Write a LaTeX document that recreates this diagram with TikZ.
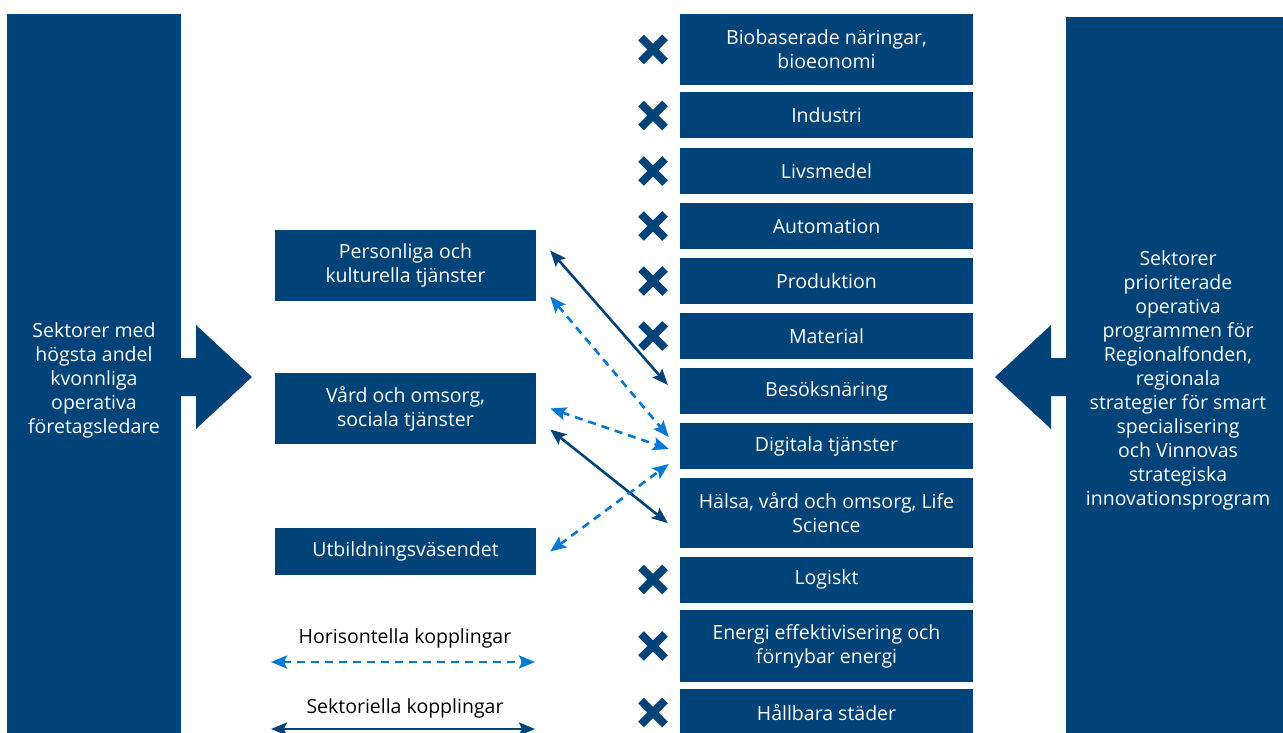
\documentclass[tikz,border=0pt]{standalone}
\usepackage{fontspec}
\setmainfont{Open Sans}
\usepackage{tikz}
\usetikzlibrary{arrows.meta}

\definecolor{morkbla}{RGB}{0,67,120}
\definecolor{ljusbla}{RGB}{0,120,212}

\tikzset{
	sektor/.style={fill=morkbla, text=white, align=center, inner sep=0pt,
		minimum width=293pt, minimum height=46pt, font=\fontsize{19.5}{24}\selectfont},
	koppling/.style={fill=morkbla, text=white, align=center, inner sep=0pt,
		minimum width=261pt, minimum height=71pt, font=\fontsize{19.5}{24}\selectfont},
	sektoriell/.style={morkbla, line width=2.6pt, {Stealth[length=16pt,width=13pt,inset=3pt]}-{Stealth[length=16pt,width=13pt,inset=3pt]}},
	horisontell/.style={ljusbla, line width=2.6pt, dash pattern=on 8pt off 6pt, {Stealth[length=16pt,width=13pt,inset=3pt]}-{Stealth[length=16pt,width=13pt,inset=3pt]}}
}

\begin{document}
\begin{tikzpicture}[x=1pt, y=-1pt]
	\useasboundingbox (0,0) rectangle (1283,733);
	%\draw[help lines] (0,0) grid[step=50] (1283,733);
	% stora block
	\node[fill=morkbla, text=white, align=center, inner sep=0pt, minimum width=174pt, minimum height=732pt,
		font=\fontsize{19.5}{24}\selectfont] (vanster) at (94,380)
		{Sektorer med\\högsta andel\\kvonnliga\\operativa\\företagsledare};
	\node[fill=morkbla, text=white, align=center, inner sep=0pt, minimum width=224pt, minimum height=726pt,
		font=\fontsize{19.5}{24}\selectfont] (hoger) at (1178,380)
		{Sektorer\\prioriterade\\operativa\\programmen för\\Regionalfonden,\\regionala\\strategier för smart\\specialisering\\och Vinnovas\\strategiska\\innovationsprogram};
	\fill[morkbla] (181,358) -- (196,358) -- (196,325) -- (252,377) -- (196,429) -- (196,396) -- (181,396) -- cycle;
	\fill[morkbla] (1066,358) -- (1051,358) -- (1051,325) -- (995,377) -- (1051,429) -- (1051,396) -- (1066,396) -- cycle;
	% sektorer
	\node[sektor, minimum height=71pt] (bio) at (826.5,49.5) {Biobaserade näringar,\\bioeonomi};
	\node[sektor] (ind) at (826.5,115.5) {Industri};
	\node[sektor] (liv) at (826.5,171) {Livsmedel};
	\node[sektor] (aut) at (826.5,226) {Automation};
	\node[sektor] (prod) at (826.5,281) {Produktion};
	\node[sektor] (mat) at (826.5,336) {Material};
	\node[sektor] (bes) at (826.5,391) {Besöksnäring};
	\node[sektor] (dig) at (826.5,446) {Digitala tjänster};
	\node[sektor, minimum height=70pt] (hal) at (826.5,513) {Hälsa, vård och omsorg, Life\\Science};
	\node[sektor] (log) at (826.5,579.5) {Logiskt};
	\node[sektor, minimum height=72pt] (ene) at (826.5,646) {Energi effektivisering och\\förnybar energi};
	\node[sektor, minimum height=47pt] (stad) at (826.5,712.5) {Hållbara städer};
	% kryss
	\foreach \y in {49.5,115.5,171,226,281,336,579.5,646,712.5}
		\draw[morkbla, line width=8pt] (641,\y-12) -- (665,\y+12) (641,\y+12) -- (665,\y-12);
	% kopplingar
	\node[koppling] (pers) at (405.5,265.5) {Personliga och\\kulturella tjänster};
	\node[koppling] (vard) at (405.5,408.5) {Vård och omsorg,\\sociala tjänster};
	\node[koppling, minimum height=47pt] (utb) at (405.5,551.5) {Utbildningsväsendet};
	\draw[sektoriell] ([xshift=14pt,yshift=15pt]pers.east) -- ([xshift=-12pt,yshift=6pt]bes.west);
	\draw[horisontell] ([xshift=14pt,yshift=-31pt]pers.east) -- ([xshift=-11pt,yshift=9pt]dig.west);
	\draw[horisontell] ([xshift=14pt]vard.east) -- ([xshift=-11pt,yshift=-3pt]dig.west);
	\draw[sektoriell] ([xshift=14pt,yshift=-21pt]vard.east) -- ([xshift=-12pt,yshift=-10pt]hal.west);
	\draw[horisontell] ([xshift=14pt]utb.east) -- ([xshift=-11pt,yshift=-18pt]dig.west);
	% teckenförklaring
	\node[font=\fontsize{19.5}{24}\selectfont] (hortext) at (405,638) {Horisontella kopplingar};
	\node[font=\fontsize{19.5}{24}\selectfont] (sektext) at (405,708) {Sektoriella kopplingar};
	\coordinate (h1) at (271,662);
	\coordinate (h2) at (535,662);
	\coordinate (s1) at (271,729);
	\coordinate (s2) at (535,729);
	\draw[horisontell] (h1) -- (h2);
	\draw[sektoriell] (s1) -- (s2);
\end{tikzpicture}
\end{document}
